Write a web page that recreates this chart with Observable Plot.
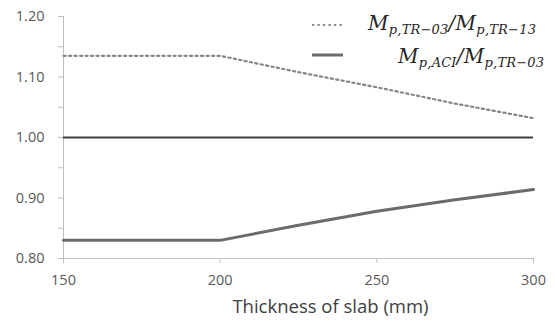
<!DOCTYPE html>
<html>
<head>
<meta charset="utf-8">
<script src="https://cdn.jsdelivr.net/npm/d3@7"></script>
<script src="https://cdn.jsdelivr.net/npm/@observablehq/plot@0.6"></script>
<style>
  html, body { margin: 0; padding: 0; background: #fff; }
  #wrap { position: relative; width: 555px; height: 322px; }
  .leg { position: absolute; font-family: "DejaVu Serif", "Liberation Serif", serif; font-style: italic; font-size: 20px; color: #262626; white-space: nowrap; line-height: 1; letter-spacing: 0.3px; }
  .leg sub { font-size: 13px; vertical-align: -4px; letter-spacing: 0.2px; }
  .sw { position: absolute; }
</style>
</head>
<body>
<div id="wrap"></div>
<script>
// ---- data ----
const thickness = [150, 200, 225, 250, 275, 300];
const ratioTR = [1.135, 1.135, 1.108, 1.083, 1.056, 1.032];   // Mp,TR-03 / Mp,TR-13 (dotted)
const ratioACI = [0.830, 0.830, 0.855, 0.878, 0.897, 0.914];  // Mp,ACI / Mp,TR-03 (solid)
const refLevel = [1.0];
const xTicks = [150, 200, 250, 300];
const yMinorTicks = [0.80, 0.85, 0.90, 0.95, 1.00, 1.05, 1.10, 1.15, 1.20];
const yMajorTicks = [0.80, 0.90, 1.00, 1.10, 1.20];
const yTickLabels = ["0.80", "0.90", "1.00", "1.10", "1.20"];
const xLabel = "Thickness of slab (mm)";

const tr = thickness.map((x, i) => ({x, y: ratioTR[i]}));
const aci = thickness.map((x, i) => ({x, y: ratioACI[i]}));

const axisGray = "#bfbfbf";
const textGray = "#595959";
const dotColor = "#868686";
const aciColor = "#6b6b6b";
const dots = "2.2,3.3";

const chart = Plot.plot({
  width: 555,
  height: 322,
  marginLeft: 63,
  marginRight: 22,
  marginTop: 16,
  marginBottom: 64,
  style: {fontFamily: "'Open Sans', sans-serif", fontSize: "14.5px", color: textGray, background: "#fff"},
  x: {domain: [150, 300]},
  y: {domain: [0.8, 1.2]},
  marks: [
    Plot.ruleX([150], {stroke: axisGray, strokeWidth: 1}),
    Plot.ruleY([0.8], {stroke: axisGray, strokeWidth: 1}),
    Plot.axisY({ticks: yMinorTicks, tickSize: 5, stroke: axisGray, tickFormat: () => "", label: null}),
    Plot.axisY({ticks: yMajorTicks, tickSize: 0, tickPadding: 19, fill: textGray,
      tickFormat: d => yTickLabels[yMajorTicks.findIndex(v => Math.abs(v - d) < 1e-9)], label: null}),
    Plot.axisX({ticks: xTicks, tickSize: 5, stroke: axisGray, tickFormat: () => "", label: null}),
    Plot.axisX({ticks: xTicks, tickSize: 0, tickPadding: 16, fill: textGray, tickFormat: d => String(d), label: null}),
    Plot.text([xLabel], {frameAnchor: "bottom", lineAnchor: "middle", dx: 32, dy: 49, fontSize: 18.5, fill: "#404040"}),
    Plot.ruleY(refLevel, {stroke: "#404040", strokeWidth: 2}),
    Plot.line(tr, {x: "x", y: "y", stroke: dotColor, strokeWidth: 2.2, strokeDasharray: dots}),
    Plot.line(aci, {x: "x", y: "y", stroke: aciColor, strokeWidth: 3})
  ]
});

const wrap = document.getElementById("wrap");
wrap.appendChild(chart);

// legend overlay
const legendItems = [
  {html: "M<sub>p,TR−03</sub>/M<sub>p,TR−13</sub>", left: 368, top: 13, dash: dots, width: 2.2, color: dotColor, sy: 25},
  {html: "M<sub>p,ACI</sub>/M<sub>p,TR−03</sub>", left: 398, top: 46, dash: null, width: 3, color: aciColor, sy: 55}
];
legendItems.forEach(it => {
  const sw = document.createElementNS("http://www.w3.org/2000/svg", "svg");
  sw.setAttribute("class", "sw");
  sw.setAttribute("width", 34);
  sw.setAttribute("height", 6);
  sw.style.left = "311px";
  sw.style.top = (it.sy - 3) + "px";
  const ln = document.createElementNS("http://www.w3.org/2000/svg", "line");
  ln.setAttribute("x1", 1); ln.setAttribute("x2", 32);
  ln.setAttribute("y1", 3); ln.setAttribute("y2", 3);
  ln.setAttribute("stroke", it.color);
  ln.setAttribute("stroke-width", it.width);
  if (it.dash) ln.setAttribute("stroke-dasharray", it.dash);
  sw.appendChild(ln);
  wrap.appendChild(sw);
  const d = document.createElement("div");
  d.className = "leg";
  d.style.left = it.left + "px";
  d.style.top = it.top + "px";
  d.innerHTML = it.html;
  wrap.appendChild(d);
});
</script>
</body>
</html>
